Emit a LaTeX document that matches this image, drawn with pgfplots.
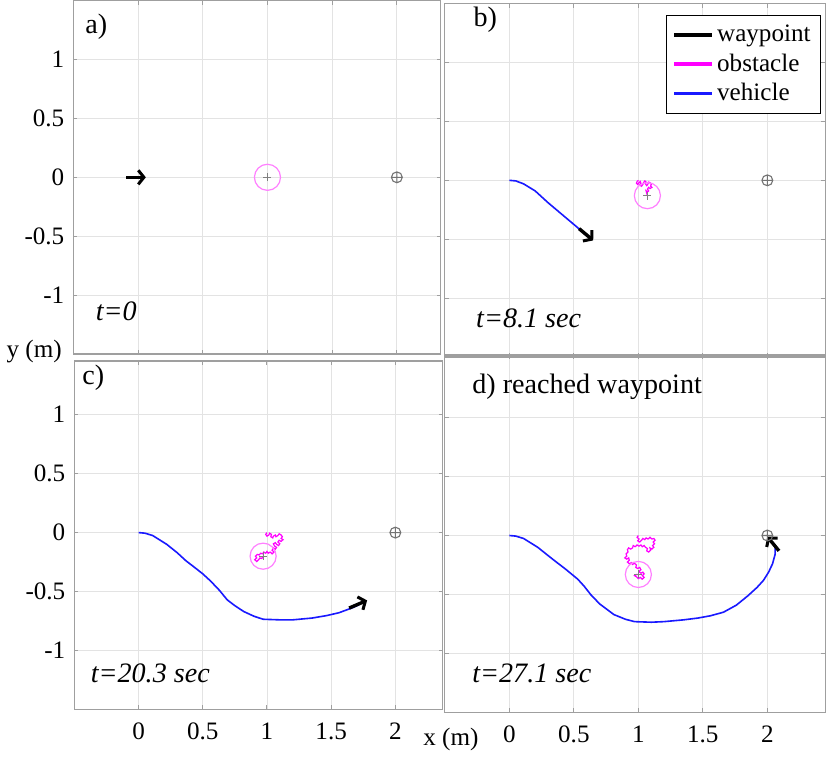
\documentclass[border=0pt]{standalone}
\usepackage{pgfplots}
\pgfplotsset{compat=1.18}
\usepackage{fontspec}
\setmainfont{Liberation Serif}
\usetikzlibrary{arrows.meta}
\definecolor{mag}{rgb}{1,0,1}
\definecolor{magl}{rgb}{1,0.5,1}
\definecolor{vblue}{rgb}{0.1,0.1,1}
\tikzset{lab/.style={font=\fontsize{14}{16}\selectfont, anchor=west, inner sep=0pt}}
\pgfplotsset{panel/.style={scale only axis, xmin=-0.5, ymin=-1.5,
  xtick={0,0.5,1,1.5,2}, ytick={-1,-0.5,0,0.5,1},
  grid=major, major grid style={gray!22, line width=0.4pt},
  axis line style={gray!75, line width=0.6pt},
  tick style={gray!75, line width=0.5pt}, major tick length=2pt,
  tick pos=both, tick align=inside,
  ticklabel style={font=\fontsize{12.5}{14}\selectfont},
  /pgf/number format/assume math mode=true,
  xticklabel style={yshift=-3pt},
  yticklabel style={xshift=-1pt},
  clip=true},
  veh/.style={vblue, line width=0.8pt},
  obs/.style={mag, line width=0.6pt},
  arr/.style={black, line width=1.7pt, -{Straight Barb[length=2.8pt, width=7pt, line width=1.5pt]}},
  obscirc/.style={only marks, mark=o, mark size=6.5pt, magl, mark options={line width=0.6pt}},
  obscen/.style={only marks, mark=+, mark size=2pt, gray, mark options={line width=0.4pt}},
  goal/.style={only marks, mark=oplus, mark size=2.7pt, gray!90!black, mark options={line width=0.55pt}}
}
\begin{document}
\begin{tikzpicture}
% ---------------- a)
\begin{axis}[panel, at={(38.5pt,-3.5pt)}, anchor=north west, width=183pt, height=176pt,
  xmax=2.34, ymax=1.5, xticklabels={}]
\addplot[obscirc] coordinates {(1,0)};
\addplot[obscen] coordinates {(1,0)};
\addplot[goal] coordinates {(2,0)};
\addplot[arr] coordinates {(-0.09,0) (0.06,0)};
\node[lab] at (axis cs:-0.41,1.28) {a)};
\node[lab] at (axis cs:-0.33,-1.14) {\textit{t=0}};
\end{axis}
% ---------------- b)
\begin{axis}[panel, at={(223.5pt,-5pt)}, anchor=north west, width=189.5pt, height=176pt,
  xmax=2.45, ymax=1.5, xticklabels={}, yticklabels={},
  legend style={at={(0.989,0.969)}, anchor=north east, draw=black, line width=0.6pt,
    font=\fontsize{12.5}{14}\selectfont, inner sep=3pt, row sep=0.5pt},
  legend image code/.code={\draw[#1] (0cm,0cm) -- (0.65cm,0cm);},
  legend cell align=left]
\addlegendimage{black, line width=1.6pt}\addlegendentry{waypoint}
\addlegendimage{mag, line width=1.6pt}\addlegendentry{obstacle}
\addlegendimage{vblue, line width=1.6pt}\addlegendentry{vehicle}
\addplot[veh] coordinates {(0,0) (0.05,-0.005) (0.11,-0.03) (0.2,-0.09) (0.30,-0.19) (0.43,-0.31) (0.56,-0.43) (0.60,-0.47)};
\addplot[obs] coordinates {(1.00,0.00) (0.99,-0.01) (0.985,-0.025) (0.995,-0.035) (1.005,-0.02) (1.015,-0.01) (1.02,-0.025) (1.01,-0.04) (1.025,-0.05) (1.035,-0.035) (1.04,-0.02) (1.05,-0.005) (1.06,-0.015) (1.055,-0.03) (1.065,-0.045) (1.075,-0.03) (1.08,-0.015) (1.09,-0.02) (1.10,-0.035) (1.095,-0.05) (1.105,-0.06) (1.09,-0.07) (1.08,-0.06) (1.07,-0.075) (1.08,-0.09) (1.07,-0.10) (1.06,-0.09) (1.065,-0.11) (1.07,-0.13)};
\addplot[obscirc] coordinates {(1.07,-0.13)};
\addplot[obscen] coordinates {(1.07,-0.13)};
\addplot[goal] coordinates {(2,0)};
\addplot[arr] coordinates {(0.54,-0.41) (0.65,-0.51)};
\node[lab] at (axis cs:-0.28,1.36) {b)};
\node[lab] at (axis cs:-0.26,-1.17) {\textit{t=8.1 sec}};
\end{axis}
% ---------------- c)
\begin{axis}[panel, at={(39pt,-183pt)}, anchor=north west, width=183.5pt, height=173.5pt,
  xmax=2.37, ymax=1.455]
\addplot[veh] coordinates {(0,0) (0.05,-0.005) (0.11,-0.025) (0.22,-0.10) (0.30,-0.17) (0.37,-0.24) (0.43,-0.29) (0.50,-0.35) (0.56,-0.41) (0.63,-0.49) (0.69,-0.57) (0.75,-0.62) (0.82,-0.67) (0.90,-0.71) (0.97,-0.735) (1.10,-0.74) (1.20,-0.74) (1.35,-0.725) (1.46,-0.705) (1.56,-0.68) (1.66,-0.64) (1.72,-0.61)};
\addplot[obs] coordinates {(1.00,0.00) (0.99,-0.015) (1.0,-0.03) (1.015,-0.02) (1.02,-0.005) (1.035,-0.015) (1.03,-0.035) (1.045,-0.045) (1.05,-0.03) (1.065,-0.02) (1.07,-0.035) (1.085,-0.025) (1.095,-0.01) (1.11,-0.02) (1.12,-0.035) (1.11,-0.05) (1.125,-0.06) (1.11,-0.075) (1.095,-0.065) (1.085,-0.08) (1.1,-0.095) (1.09,-0.11) (1.075,-0.1) (1.065,-0.085) (1.05,-0.095) (1.06,-0.115) (1.075,-0.125) (1.065,-0.14) (1.05,-0.13) (1.04,-0.15) (1.055,-0.165) (1.04,-0.18) (1.025,-0.165) (1.01,-0.175) (1.0,-0.16) (0.99,-0.175) (0.975,-0.165) (0.965,-0.18) (0.95,-0.175) (0.94,-0.19) (0.925,-0.185) (0.91,-0.2) (0.92,-0.215) (0.905,-0.23) (0.92,-0.245) (0.935,-0.23) (0.945,-0.215) (0.96,-0.22) (0.97,-0.2)};
\addplot[obscirc] coordinates {(0.97,-0.20)};
\addplot[obscen] coordinates {(0.97,-0.20)};
\addplot[goal] coordinates {(2,0)};
\addplot[arr] coordinates {(1.64,-0.64) (1.78,-0.575)};
\node[lab] at (axis cs:-0.44,1.31) {c)};
\node[lab] at (axis cs:-0.375,-1.19) {\textit{t=20.3 sec}};
\end{axis}
% ---------------- d)
\begin{axis}[panel, at={(223.5pt,-180pt)}, anchor=north west, width=189.5pt, height=178pt,
  xmax=2.45, ymax=1.53, yticklabels={}]
\addplot[veh] coordinates {(0,0) (0.05,-0.005) (0.11,-0.025) (0.22,-0.10) (0.30,-0.17) (0.37,-0.23) (0.43,-0.28) (0.53,-0.37) (0.58,-0.43) (0.63,-0.50) (0.70,-0.58) (0.81,-0.67) (0.90,-0.71) (0.97,-0.73) (1.10,-0.735) (1.20,-0.73) (1.35,-0.715) (1.46,-0.70) (1.56,-0.68) (1.66,-0.65) (1.76,-0.59) (1.85,-0.51) (1.92,-0.44) (1.97,-0.38) (2.01,-0.31) (2.04,-0.24) (2.06,-0.16) (2.06,-0.10)};
\addplot[obs] coordinates {(1.00,0.00) (0.99,-0.015) (1.005,-0.03) (0.995,-0.045) (1.01,-0.055) (1.025,-0.04) (1.035,-0.025) (1.05,-0.035) (1.06,-0.02) (1.075,-0.03) (1.09,-0.015) (1.105,-0.03) (1.12,-0.025) (1.13,-0.04) (1.115,-0.055) (1.125,-0.07) (1.11,-0.085) (1.12,-0.1) (1.105,-0.115) (1.09,-0.105) (1.095,-0.125) (1.08,-0.14) (1.065,-0.13) (1.07,-0.11) (1.055,-0.1) (1.045,-0.085) (1.03,-0.095) (1.02,-0.08) (1.005,-0.09) (0.99,-0.08) (0.975,-0.095) (0.96,-0.085) (0.955,-0.105) (0.94,-0.115) (0.925,-0.105) (0.915,-0.12) (0.92,-0.14) (0.905,-0.155) (0.91,-0.175) (0.895,-0.19) (0.91,-0.2) (0.925,-0.19) (0.93,-0.21) (0.915,-0.225) (0.93,-0.24) (0.945,-0.23) (0.955,-0.245) (0.97,-0.235) (0.985,-0.25) (0.98,-0.27) (0.995,-0.28) (1.01,-0.27) (1.02,-0.29) (1.005,-0.305) (1.02,-0.32) (1.035,-0.31) (1.045,-0.325) (1.03,-0.34) (1.045,-0.355) (1.03,-0.37) (1.015,-0.355) (1.0,-0.365) (0.985,-0.35) (0.97,-0.34) (0.985,-0.33) (1.0,-0.33)};
\addplot[obscirc] coordinates {(1.0,-0.33)};
\addplot[obscen] coordinates {(1.0,-0.33)};
\addplot[goal] coordinates {(2,0)};
\addplot[arr] coordinates {(2.09,-0.13) (2.0,-0.01)};
\node[lab] at (axis cs:-0.29,1.26) {d)\ reached waypoint};
\node[lab] at (axis cs:-0.29,-1.17) {\textit{t=27.1 sec}};
\end{axis}
\node[font=\fontsize{12.5}{14}\selectfont] at (19pt,-178pt) {y (m)};
\node[font=\fontsize{12.5}{14}\selectfont] at (226.5pt,-371.5pt) {x (m)};
\end{tikzpicture}
\end{document}
